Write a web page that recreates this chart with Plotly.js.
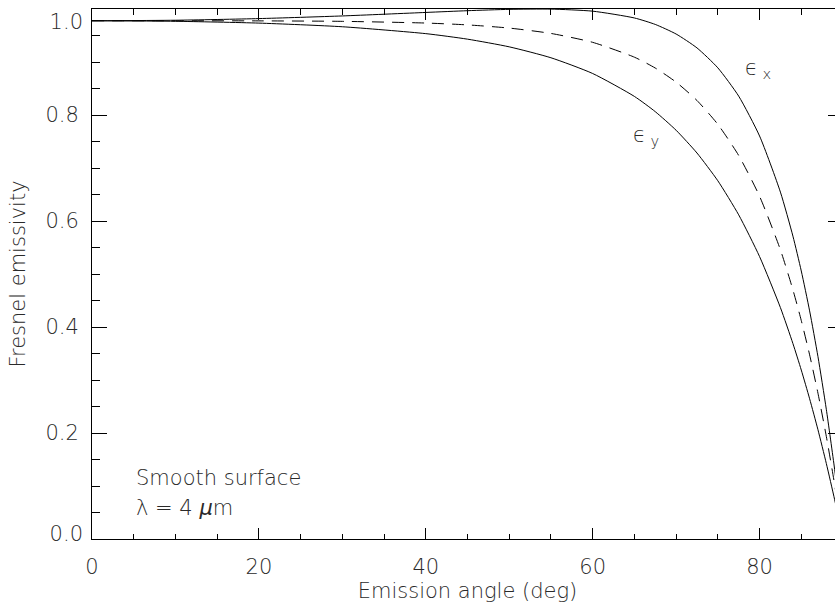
<!DOCTYPE html>
<html><head><meta charset="utf-8">
<script src="https://cdn.plot.ly/plotly-3.0.1.min.js"></script>
<style>html,body{margin:0;padding:0;overflow:hidden;background:#fff;width:835px;height:611px}</style>
</head><body><div id="chart" style="width:845px;height:611px"></div>
<script>
// Emission angle (deg)
const angles = [0,10,20,30,40,45,50,55,60,65,67.5,70,72.5,75,77.5,80,82.5,84,85,86,87,88,89,90];
// epsilon_x (upper solid)
const epsX = [0.9778,0.9788,0.9819,0.9869,0.9935,0.9968,0.9993,0.9998,0.9959,0.9831,0.9709,0.9528,0.9266,0.8890,0.8356,0.7604,0.6545,0.5714,0.5057,0.4304,0.3440,0.2448,0.1309,0];
// epsilon_y (lower solid)
const epsY = [0.9778,0.9768,0.9734,0.9665,0.9535,0.9431,0.9286,0.9080,0.8783,0.8351,0.8063,0.7712,0.7283,0.6759,0.6116,0.5329,0.4366,0.3687,0.3188,0.2646,0.2061,0.1426,0.0741,0];
// average (dashed)
const epsMean = [0.9778,0.9778,0.9776,0.9767,0.9735,0.9700,0.9640,0.9539,0.9371,0.9091,0.8886,0.8620,0.8274,0.7824,0.7236,0.6467,0.5456,0.4700,0.4122,0.3475,0.2750,0.1937,0.1025,0];

const yTickVals = [0.2,0.4,0.6,0.8];
const yTickText = ['0.2','0.4','0.6','0.8'];
const xTickVals = [0,20,40,60,80];
const xTickText = ['0','20','40','60','80'];

const ink = '#000';
const txt = '#2a2a2a';
const font = {family: 'DejaVu Sans, sans-serif', size: 21, color: txt, weight: 300};

const lineStyle = {color: ink, width: 1, shape: 'spline', smoothing: 0.6};
const traces = [
  {x: angles, y: epsX, mode: 'lines', line: lineStyle, hoverinfo: 'skip'},
  {x: angles, y: epsY, mode: 'lines', line: lineStyle, hoverinfo: 'skip'},
  {x: angles, y: epsMean, mode: 'lines', line: Object.assign({}, lineStyle, {dash: '12px,8px'}), hoverinfo: 'skip'},
  {x: [], y: [], yaxis: 'y2', mode: 'lines', hoverinfo: 'skip'},
  {x: [], y: [], yaxis: 'y3', mode: 'lines', hoverinfo: 'skip'}
];

const endAxis = (vals, text, pos, shift) => ({
  overlaying: 'y', side: 'left', range: [0, 1], tickmode: 'array', tickvals: vals, ticktext: text,
  ticks: '', showline: false, showgrid: false, zeroline: false, ticklabelposition: pos,
  ticklabelshift: shift, tickfont: font, ticklabelstandoff: 8, fixedrange: true
});

const layout = {
  width: 845, height: 611,
  margin: {l: 92, r: 2, t: 9, b: 72},
  paper_bgcolor: '#fff', plot_bgcolor: '#fff',
  showlegend: false, font: font,
  xaxis: {
    range: [0, 90], tickmode: 'array', tickvals: xTickVals, ticktext: xTickText,
    ticks: 'inside', ticklen: 11, tickwidth: 1, tickcolor: ink,
    showline: true, linecolor: ink, linewidth: 1, mirror: 'ticks',
    showgrid: false, zeroline: false, tickfont: font, ticklabelstandoff: 9,
    minor: {tickmode: 'linear', tick0: 0, dtick: 5, ticks: 'inside', ticklen: 5.5, tickcolor: ink, tickwidth: 1, showgrid: false},
    title: {text: 'Emission angle (deg)', font: font, standoff: 2}
  },
  yaxis: {
    range: [0, 1], tickmode: 'array', tickvals: yTickVals, ticktext: yTickText,
    ticks: 'inside', ticklen: 15, tickwidth: 1, tickcolor: ink,
    showline: true, linecolor: ink, linewidth: 1, mirror: 'ticks',
    showgrid: false, zeroline: false, tickfont: font, ticklabelstandoff: 8,
    minor: {tickmode: 'linear', tick0: 0, dtick: 0.05, ticks: 'inside', ticklen: 7.5, tickcolor: ink, tickwidth: 1, showgrid: false},
    title: {text: 'Fresnel emissivity', font: font, standoff: 14}
  },
  yaxis2: endAxis([0], ['0.0'], 'outside top', 9),
  yaxis3: endAxis([1], ['1.0'], 'outside bottom', -2),
  annotations: [
    {x: 78.0, y: 0.887, xref: 'x', yref: 'y', xanchor: 'left', yanchor: 'middle', showarrow: false,
     text: '\u03F5<sub>\u00A0x</sub>', font: font},
    {x: 64.6, y: 0.76, xref: 'x', yref: 'y', xanchor: 'left', yanchor: 'middle', showarrow: false,
     text: '\u03F5<sub>\u00A0y</sub>', font: font},
    {x: 5, y: 0.115, xref: 'x', yref: 'y', xanchor: 'left', yanchor: 'middle', showarrow: false,
     text: 'Smooth surface', font: font},
    {x: 5, y: 0.058, xref: 'x', yref: 'y', xanchor: 'left', yanchor: 'middle', showarrow: false,
     text: '\u03BB = 4 <i>\u03BC</i>m', font: font}
  ]
};

Plotly.newPlot('chart', traces, layout, {staticPlot: true, displayModeBar: false});
</script>
</body></html>
